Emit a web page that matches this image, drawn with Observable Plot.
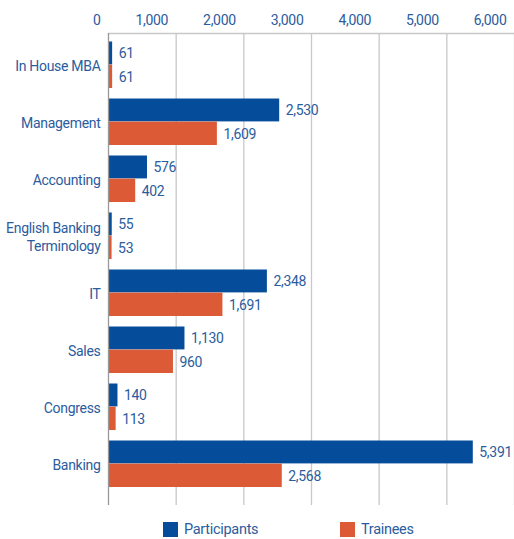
<!DOCTYPE html>
<html><head><meta charset="utf-8">
<script src="https://cdn.jsdelivr.net/npm/d3@7"></script>
<script src="https://cdn.jsdelivr.net/npm/@observablehq/plot@0.6"></script>
<style>
body{margin:0;background:#fff;font-family:Roboto,sans-serif;}
#legend{position:absolute;top:521px;left:0;width:514px;font-size:14.5px;color:#2b5c9e;letter-spacing:-0.3px;}
.item{position:absolute;display:flex;align-items:center;}
.sw{width:15px;height:15px;margin-right:6px;}
</style></head><body>
<div id="chart"></div>
<div id="legend">
 <div class="item" style="left:163px"><div class="sw" style="background:#054c9a"></div>Participants</div>
 <div class="item" style="left:340px"><div class="sw" style="background:#dc5a36"></div>Trainees</div>
</div>
<script>
const categories = ["In House MBA","Management","Accounting","English Banking\nTerminology","IT","Sales","Congress","Banking"];
const participants = [61,2530,576,55,2348,1130,140,5391];
const trainees = [61,1609,402,53,1691,960,113,2568];
const xTicks = [0,1000,2000,3000,4000,5000,6000];

const blue = "#054c9a", orange = "#dc5a36", txt = "#2b5c9e";
const P = categories.map((c,i)=>({cat:c, v:participants[i]}));
const T = categories.map((c,i)=>({cat:c, v:trainees[i]}));
const fmt = d3.format(",");
const half = 28.6, pad = 5.5;

const chart = Plot.plot({
  width: 514, height: 510,
  marginTop: 33, marginLeft: 108, marginRight: 0, marginBottom: 5,
  style:{fontFamily:'Roboto,sans-serif', fontSize:"14px", color: txt, letterSpacing:"-0.3px"},
  x:{domain:[0,6000], axis:null, label:null},
  y:{domain:categories, padding:0, insetTop:2.6, insetBottom:12, axis:null, label:null},
  marks:[
    Plot.ruleX(xTicks.slice(1), {stroke:"#c8c8c8", strokeWidth:1.3, strokeOpacity:1}),
    Plot.frame({anchor:"top", stroke:"#c8c8c8", strokeWidth:1.3}),
    Plot.barX(P, {x:"v", y:"cat", fill:blue, insetTop:pad, insetBottom:half}),
    Plot.barX(T, {x:"v", y:"cat", fill:orange, insetTop:half, insetBottom:pad-0.5}),
    Plot.text(P, {x:"v", y:"cat", text:d=>fmt(d.v), textAnchor:"start", dx:6, dy:-11, fill:txt, fontSize:14}),
    Plot.text(T, {x:"v", y:"cat", text:d=>fmt(d.v), textAnchor:"start", dx:6, dy:13, fill:txt, fontSize:14}),
    Plot.ruleX([0], {stroke:"#999", strokeWidth:1.3}),
    Plot.axisX({anchor:"top", ticks:xTicks, tickSize:0, tickPadding:9, textAnchor:"end", dx:-8, tickFormat:fmt, fill:txt, fontSize:14, label:null}),
    Plot.axisY({tickSize:0, tickPadding:8, fill:txt, fontSize:14, lineHeight:1.35, tickFormat:d=>d, label:null})
  ]
});
document.getElementById("chart").appendChild(chart);
</script>
</body></html>
